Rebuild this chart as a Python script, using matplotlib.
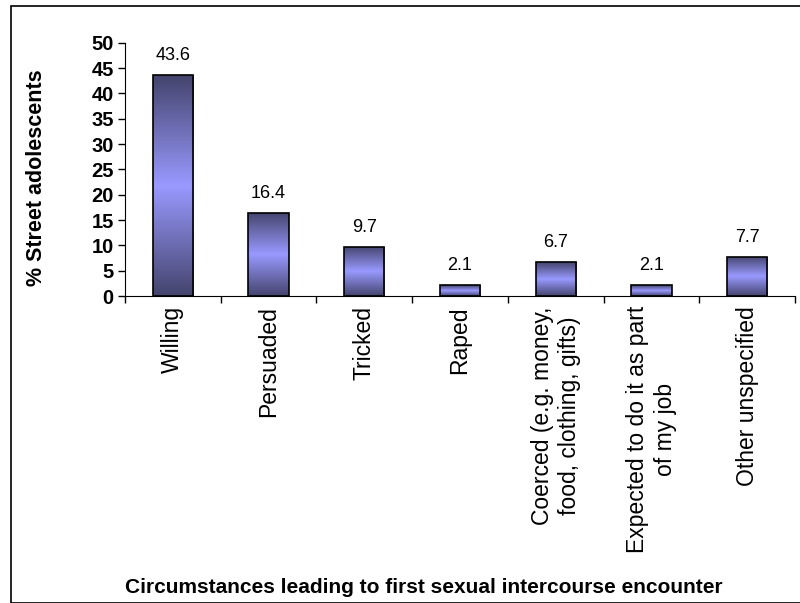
import numpy as np
import matplotlib.pyplot as plt
from matplotlib.colors import LinearSegmentedColormap
from matplotlib.patches import Rectangle

plt.rcParams['font.family'] = ['Liberation Sans', 'DejaVu Sans']

# Survey results
categories = [
    "Willing",
    "Persuaded",
    "Tricked",
    "Raped",
    "Coerced (e.g. money,\nfood, clothing, gifts)",
    "Expected to do it as part\nof my job",
    "Other unspecified",
]
percent = [43.6, 16.4, 9.7, 2.1, 6.7, 2.1, 7.7]

fig = plt.figure(figsize=(8, 6.03), dpi=100)
ax = fig.add_axes([0.156, 0.509, 0.838, 0.42])

# dark edges, light centre
grad = LinearSegmentedColormap.from_list("bar", ["#45456f", "#9999ff", "#45456f"])

x = np.arange(len(categories))
width = 0.42
bars = ax.bar(x, percent, width=width, color="none", edgecolor="black", linewidth=1.2, zorder=3)
for b, v in zip(bars, percent):
    g = np.linspace(0, 1, 100).reshape(-1, 1)
    im = ax.imshow(g, cmap=grad, aspect="auto", zorder=2,
                   extent=[b.get_x(), b.get_x() + b.get_width(), 0, b.get_height()])
    im.set_clip_path(b)
    ax.annotate(f"{v}", (b.get_x() + b.get_width() / 2, v), xytext=(0, 8),
                textcoords="offset points", ha="center", va="bottom", fontsize=13)

ax.set_xlim(-0.5, len(categories) - 0.5)
ax.set_ylim(0, 50)
ax.set_yticks(range(0, 51, 5))
ax.set_yticklabels([str(t) for t in range(0, 51, 5)], fontsize=14.5, fontweight="bold")
ax.tick_params(axis="y", direction="out", length=5, width=1, pad=3)

# category ticks sit between the bars
ax.set_xticks(np.arange(-0.5, len(categories), 1))
ax.set_xticklabels([])
ax.tick_params(axis="x", direction="out", length=5, width=1)
for xi, lab in zip(x, categories):
    ax.text(xi, -2.0, lab, rotation=90, ha="center", va="top", fontsize=16.5,
            multialignment="center", linespacing=1.25)

for s in ["top", "right"]:
    ax.spines[s].set_visible(False)

fig.text(0.046, 0.705, "% Street adolescents", rotation=90, ha="center", va="center",
         fontsize=15.5, fontweight="bold")
fig.text(0.53, 0.025, "Circumstances leading to first sexual intercourse encounter",
         ha="center", va="center", fontsize=15, fontweight="bold")

# outer chart frame
fig.patches.append(Rectangle((0.014, 0.0), 1.0, 0.99, transform=fig.transFigure,
                             fill=False, edgecolor="black", linewidth=1.2))

fig.savefig("out.png", dpi=100)
